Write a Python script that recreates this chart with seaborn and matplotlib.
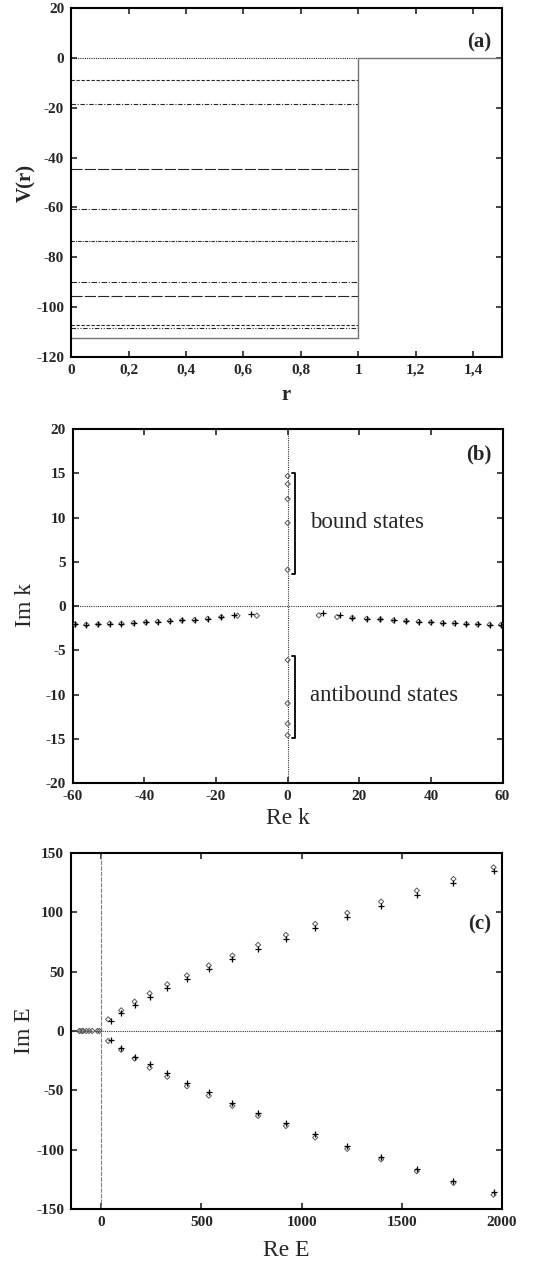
import numpy as np
import pandas as pd
import matplotlib
matplotlib.use('Agg')
import matplotlib.pyplot as plt
import matplotlib.ticker as mticker
import seaborn as sns

# --- podaci ---
# (a) potencijal i razine
well_r = [0.0, 1.0, 1.0, 1.5]
well_V = [-112.5, -112.5, 0.0, 0.0]
levels = [0.0, -8.7, -18.4, -44.4, -60.5, -73.6, -89.8, -95.4, -107.0, -108.5]

# (b) polovi u k ravnini
rek_left_dia = [-59.3, -56.2, -52.9, -49.7, -46.4, -43.0, -39.6, -36.3, -32.9, -29.5, -26.0, -22.3, -18.5, -14.0, -8.6]
rek_left_plus = [-59.3, -56.2, -52.9, -49.7, -46.4, -43.0, -39.6, -36.3, -32.9, -29.5, -26.0, -22.3, -18.5, -15.1, -10.2]
imk_left_dia = [-2.07, -2.10, -2.07, -1.99, -1.99, -1.92, -1.84, -1.77, -1.69, -1.62, -1.58, -1.43, -1.24, -1.09, -1.09]
imk_left_plus = [-2.07, -2.10, -2.07, -1.99, -1.99, -1.92, -1.84, -1.77, -1.69, -1.62, -1.58, -1.43, -1.24, -1.05, -0.94]
rek_right_dia = [8.7, 13.8, 18.1, 22.1, 25.9, 29.6, 33.1, 36.6, 40.0, 43.3, 46.6, 49.9, 53.1, 56.4, 59.6]
rek_right_plus = [9.9, 14.7, 18.1, 22.1, 25.9, 29.6, 33.1, 36.6, 40.0, 43.3, 46.6, 49.9, 53.1, 56.4, 59.6]
imk_right_dia = [-1.05, -1.24, -1.32, -1.43, -1.50, -1.62, -1.69, -1.77, -1.84, -1.92, -1.95, -2.03, -2.07, -2.10, -2.12]
imk_right_plus = [-0.83, -1.01, -1.32, -1.43, -1.50, -1.62, -1.69, -1.77, -1.84, -1.92, -1.95, -2.03, -2.07, -2.10, -2.12]
imk_bound = [4.1, 9.4, 12.1, 13.8, 14.7]
imk_antibound = [-6.1, -11.0, -13.3, -14.6]
bound_bracket = [3.6, 15.0]
anti_bracket = [-14.9, -5.6]

# (c) polovi u E ravnini
reE_dia = [35, 100, 167, 242, 330, 428, 537, 655, 783, 922, 1068, 1228, 1397, 1575, 1758, 1958]
reE_plus = [50, 100, 167, 242, 330, 428, 537, 655, 783, 922, 1068, 1228, 1397, 1575, 1758, 1958]
imE_up_dia = [9.8, 17.4, 24.7, 31.7, 39.3, 46.8, 55.2, 63.6, 72.6, 81.0, 90.3, 99.5, 109.0, 118.3, 128.1, 137.9]
imE_up_plus = [8.4, 15.4, 21.9, 28.9, 35.9, 43.5, 51.9, 60.3, 69.2, 77.7, 86.6, 95.9, 105.7, 114.7, 124.8, 134.8]
imE_lo_dia = [-8.4, -15.9, -23.3, -31.0, -38.6, -46.6, -54.5, -63.1, -71.6, -80.1, -89.8, -99.4, -108.2, -118.2, -128.1, -138.0]
imE_lo_plus = [-7.6, -14.0, -21.6, -28.1, -35.8, -43.8, -51.7, -60.8, -68.8, -77.8, -86.9, -97.2, -106.3, -116.2, -126.1, -136.0]
reE_real = [-108.5, -107.0, -95.4, -89.8, -73.6, -60.5, -44.4, -18.4, -8.7]

# --- stil ---
sns.set_style('ticks')
plt.rcParams['font.family'] = ['Liberation Serif', 'DejaVu Serif']
plt.rcParams['axes.unicode_minus'] = False

level_styles = [(0, (1, 1)), (0, (3, 1.5)), (0, (4, 1.5, 1, 1.5)), (0, (10, 2)),
                (0, (5, 1.5, 1, 1.5)), (0, (3, 1, 1, 1)), (0, (5, 1.5, 1, 1.5)),
                (0, (10, 2)), (0, (3, 1.5)), (0, (4, 1.5, 1, 1.5, 1, 1.5))]

fig = plt.figure(figsize=(5.51, 12.65), dpi=100)
ax_a = fig.add_axes([0.129, 0.7178, 0.782, 0.2759])
ax_b = fig.add_axes([0.132, 0.381, 0.780, 0.2798])
ax_c = fig.add_axes([0.129, 0.0443, 0.782, 0.2814])


def style_axes(ax):
    for sp in ax.spines.values():
        sp.set_linewidth(1.5)
        sp.set_color('k')
    ax.tick_params(direction='in', top=True, right=True, length=4, width=1.2,
                   labelsize=11, pad=5)
    for lab in ax.get_xticklabels() + ax.get_yticklabels():
        lab.set_fontweight('bold')


def dia(ax, x, y):
    sns.scatterplot(x=x, y=y, ax=ax, marker='D', s=7, facecolors='none',
                    edgecolor='0.35', linewidth=0.7, zorder=3)


def plus(ax, x, y):
    sns.scatterplot(x=x, y=y, ax=ax, marker='+', s=18, color='k',
                    linewidth=0.9, zorder=4)


# (a)
for lev, ls in zip(levels, level_styles):
    ax_a.hlines(lev, 0, 1, colors='0.15', linestyles=ls, linewidth=0.8)
sns.lineplot(x=well_r, y=well_V, ax=ax_a, sort=False, estimator=None,
             color='0.45', linewidth=1.0)
ax_a.set_xlim(0, 1.5)
ax_a.set_ylim(-120, 20)
ax_a.set_xticks(np.arange(0, 1.41, 0.2))
ax_a.set_yticks(np.arange(-120, 21, 20))
ax_a.xaxis.set_major_formatter(mticker.FuncFormatter(
    lambda v, p: ('%g' % round(v, 1)).replace('.', ',')))
ax_a.set_xlabel('r', fontsize=15, fontweight='bold', va='center')
ax_a.set_ylabel('V(r)', fontsize=15, fontweight='bold', va='center')
ax_a.xaxis.set_label_coords(0.5, -0.109)
ax_a.yaxis.set_label_coords(-0.104, 0.5)
ax_a.text(0.975, 0.9, '(a)', transform=ax_a.transAxes, ha='right', va='center',
          fontsize=15, fontweight='bold')
style_axes(ax_a)

# (b)
ax_b.axhline(0, color='0.2', linestyle=(0, (1, 1)), linewidth=0.8)
ax_b.axvline(0, color='0.2', linestyle=(0, (1, 1)), linewidth=0.8)
dia(ax_b, rek_left_dia, imk_left_dia)
plus(ax_b, rek_left_plus, imk_left_plus)
dia(ax_b, rek_right_dia, imk_right_dia)
plus(ax_b, rek_right_plus, imk_right_plus)
dia(ax_b, [0.0] * len(imk_bound), imk_bound)
dia(ax_b, [0.0] * len(imk_antibound), imk_antibound)
for lo, hi in [bound_bracket, anti_bracket]:
    ax_b.plot([1.2, 2.1, 2.1, 1.2], [hi, hi, lo, lo], color='k', linewidth=1.3)
ax_b.text(6.3, 9.4, 'bound states', fontsize=16.5, va='center', ha='left')
ax_b.text(6.3, -10.1, 'antibound states', fontsize=16.5, va='center', ha='left')
ax_b.set_xlim(-60, 60)
ax_b.set_ylim(-20, 20)
ax_b.set_xticks(np.arange(-60, 61, 20))
ax_b.set_yticks(np.arange(-20, 21, 5))
ax_b.set_xlabel('Re k', fontsize=17, va='center')
ax_b.set_ylabel('Im k', fontsize=17, va='center')
ax_b.xaxis.set_label_coords(0.5, -0.099)
ax_b.yaxis.set_label_coords(-0.111, 0.503)
ax_b.text(0.975, 0.927, '(b)', transform=ax_b.transAxes, ha='right', va='center',
          fontsize=15, fontweight='bold')
style_axes(ax_b)

# (c)
ax_c.axhline(0, color='0.2', linestyle=(0, (1, 1)), linewidth=0.8)
ax_c.axvline(0, color='0.5', linestyle=(0, (4, 1)), linewidth=0.8)
dia(ax_c, reE_dia, imE_up_dia)
plus(ax_c, reE_plus, imE_up_plus)
dia(ax_c, reE_dia, imE_lo_dia)
plus(ax_c, reE_plus, imE_lo_plus)
dia(ax_c, reE_real, [0.0] * len(reE_real))
ax_c.set_xlim(-150, 2000)
ax_c.set_ylim(-150, 150)
ax_c.set_xticks(np.arange(0, 2001, 500))
ax_c.set_yticks(np.arange(-150, 151, 50))
ax_c.set_xlabel('Re E', fontsize=17, va='center')
ax_c.set_ylabel('Im E', fontsize=17, va='center')
ax_c.xaxis.set_label_coords(0.5, -0.118)
ax_c.yaxis.set_label_coords(-0.107, 0.5)
ax_c.text(0.975, 0.80, '(c)', transform=ax_c.transAxes, ha='right', va='center',
          fontsize=15, fontweight='bold')
style_axes(ax_c)

fig.savefig('out.png', dpi=100)
